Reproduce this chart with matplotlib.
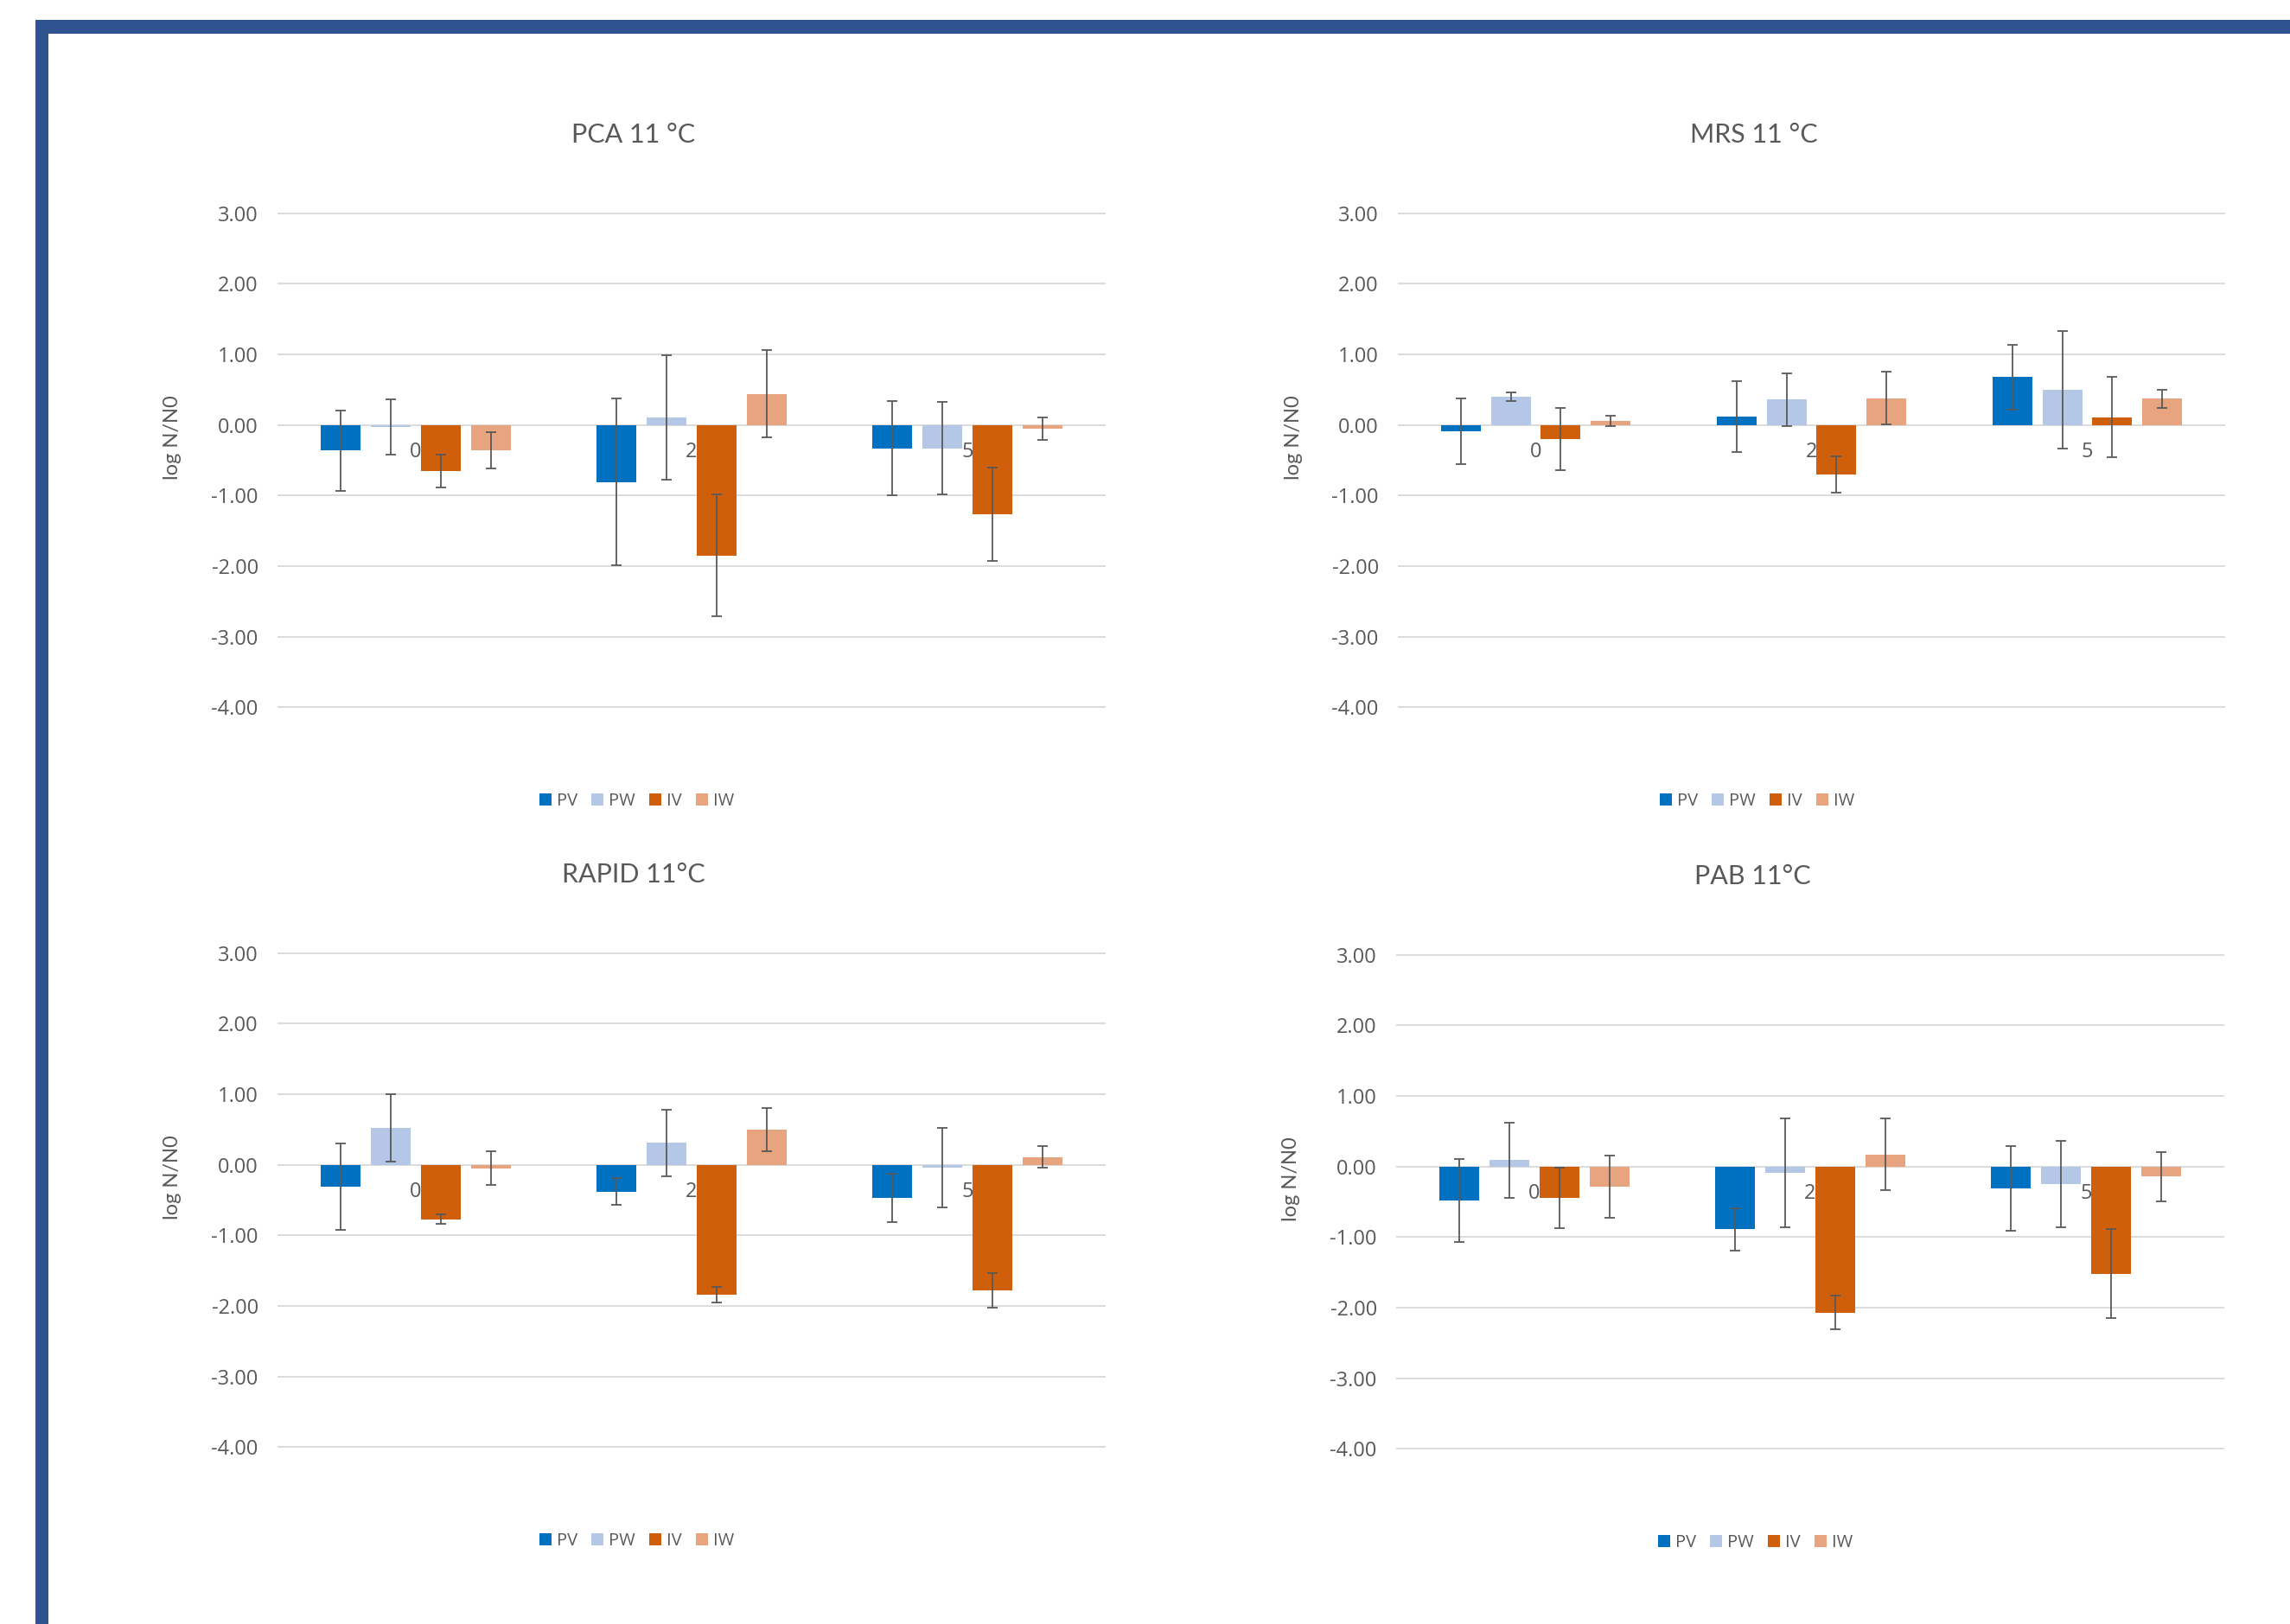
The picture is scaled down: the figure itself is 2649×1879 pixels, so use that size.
import numpy as np
import matplotlib
matplotlib.use('Agg')
import matplotlib.pyplot as plt
from matplotlib.patches import Rectangle
from matplotlib.ticker import FormatStrFormatter

days = ['0', '2', '5']
series = ['PV', 'PW', 'IV', 'IW']
colors = ['#0070C0', '#B4C7E7', '#D05F0C', '#E8A47E']

# mean log N/N0 per series (PV, PW, IV, IW) at day 0, 2, 5
pca_mean = [[-0.36, -0.81, -0.33], [-0.03, 0.11, -0.33],
            [-0.65, -1.85, -1.27], [-0.36, 0.44, -0.05]]
pca_err = [[0.57, 1.18, 0.67], [0.39, 0.88, 0.66],
           [0.23, 0.86, 0.66], [0.26, 0.62, 0.16]]

mrs_mean = [[-0.09, 0.12, 0.68], [0.40, 0.36, 0.50],
            [-0.20, -0.70, 0.11], [0.06, 0.38, 0.37]]
mrs_err = [[0.46, 0.50, 0.46], [0.06, 0.37, 0.83],
           [0.44, 0.26, 0.57], [0.07, 0.37, 0.13]]

rapid_mean = [[-0.31, -0.38, -0.47], [0.52, 0.31, -0.04],
              [-0.77, -1.84, -1.78], [-0.05, 0.50, 0.11]]
rapid_err = [[0.61, 0.19, 0.34], [0.48, 0.47, 0.56],
             [0.07, 0.11, 0.24], [0.24, 0.31, 0.15]]

pab_mean = [[-0.48, -0.89, -0.31], [0.09, -0.09, -0.25],
            [-0.44, -2.07, -1.52], [-0.29, 0.17, -0.14]]
pab_err = [[0.59, 0.30, 0.60], [0.53, 0.77, 0.61],
           [0.43, 0.24, 0.63], [0.44, 0.51, 0.35]]

TEXT = '#595959'
W, H = 2649, 1879


def draw_panel(rect, title, means, errs):
    ax = fig.add_axes(rect)
    x = np.arange(len(days))
    pitch = 0.1816
    width = 0.144
    for i, name in enumerate(series):
        pos = x + (i - 1.5) * pitch
        ax.bar(pos, means[i], width, color=colors[i], label=name, zorder=2)
        ax.errorbar(pos, means[i], yerr=errs[i], fmt='none', ecolor=TEXT,
                    elinewidth=1.3, capsize=4, capthick=1.3, zorder=3)
    for xi, d in zip(x, days):
        ax.text(xi, -0.38, d, ha='center', va='center', color=TEXT,
                fontsize=17, family='Open Sans', zorder=1)

    ax.set_xlim(-0.5, 2.5)
    ax.set_ylim(-4.01, 3.01)
    ax.set_yticks(range(-4, 4))
    ax.yaxis.set_major_formatter(FormatStrFormatter('%.2f'))
    ax.set_xticks([])
    ax.tick_params(axis='y', length=0, pad=16, labelsize=17, labelcolor=TEXT)
    for lab in ax.get_yticklabels():
        lab.set_family('Open Sans')
    ax.yaxis.grid(True, color='#D9D9D9', lw=1.3)
    ax.set_axisbelow(True)
    for s in ax.spines.values():
        s.set_visible(False)

    ax.text(-121 / 958, 0.546, 'log N/N0', rotation=90, ha='center', va='center',
            transform=ax.transAxes, color=TEXT, fontsize=17, family='Lato')
    ax.text(0.430, 1.157, title, ha='center', va='center',
            transform=ax.transAxes, color=TEXT, fontsize=22, family='Lato')
    ax.legend(loc='center', bbox_to_anchor=(0.434, -0.188), ncol=4, frameon=False,
              handlelength=0.7, handleheight=0.7, handletextpad=0.3,
              columnspacing=0.8, prop={'family': 'Open Sans', 'size': 14.5},
              labelcolor=TEXT)
    return ax


fig = plt.figure(figsize=(W / 100, H / 100), dpi=100)

# dark blue frame along the top and left edges
fig.add_artist(Rectangle((41 / W, 0), 15 / W, 1 - 23 / H, transform=fig.transFigure,
                         color='#2F5391', lw=0))
fig.add_artist(Rectangle((41 / W, 1 - 39 / H), 1, 16 / H, transform=fig.transFigure,
                         color='#2F5391', lw=0))

draw_panel([321 / W, 1 - 819 / H, 958 / W, 573 / H], 'PCA 11 °C', pca_mean, pca_err)
draw_panel([1617 / W, 1 - 819 / H, 957 / W, 573 / H], 'MRS 11 °C', mrs_mean, mrs_err)
draw_panel([321 / W, 1 - 1675 / H, 958 / W, 573 / H], 'RAPID 11°C', rapid_mean, rapid_err)
draw_panel([1615 / W, 1 - 1677 / H, 958 / W, 573 / H], 'PAB 11°C', pab_mean, pab_err)

fig.savefig('out.png', dpi=100, facecolor='white')
